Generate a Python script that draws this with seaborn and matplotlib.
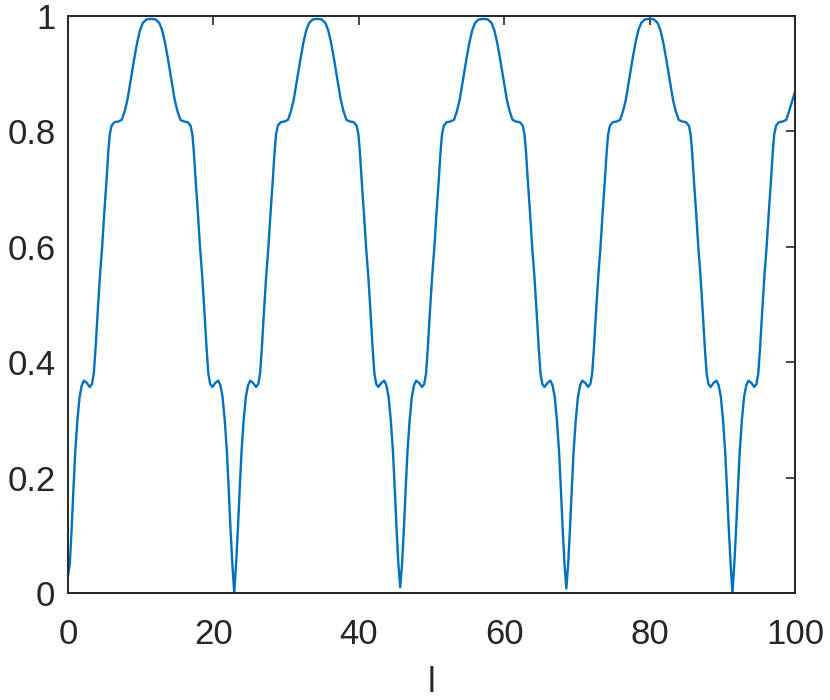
import numpy as np
import pandas as pd
import seaborn as sns
import matplotlib
matplotlib.use('Agg')
import matplotlib.pyplot as plt

# values, one period after another
x_vals = [
    0, 0.25, 0.5, 0.75, 1.0, 1.3, 1.6, 1.9, 2.2, 2.6, 3.0, 3.3, 3.55, 3.8, 4.1, 4.4, 4.7,
    5.0, 5.3, 5.55, 5.75, 6.0, 6.4, 6.9, 7.4, 7.8, 8.17, 8.63, 9.09, 9.5, 9.9, 10.3, 10.8, 11.43,
    12.06, 12.56, 12.96, 13.36, 13.77, 14.23, 14.69, 15.06, 15.46, 15.96, 16.46, 16.86, 17.11,
    17.31, 17.56, 17.86, 18.16, 18.46, 18.76, 19.06, 19.31, 19.56, 19.86, 20.26, 20.66, 20.96,
    21.26, 21.56, 21.86, 22.11, 22.36, 22.61,
    22.87, 23.12, 23.37, 23.62, 23.87, 24.17, 24.47, 24.77, 25.07, 25.47, 25.87, 26.17, 26.42,
    26.67, 26.97, 27.27, 27.57, 27.87, 28.17, 28.42, 28.62, 28.87, 29.27, 29.77, 30.27, 30.67,
    31.04, 31.5, 31.96, 32.37, 32.77, 33.17, 33.67, 34.3,
    34.9, 35.4, 35.8, 36.2, 36.61, 37.07, 37.53, 37.9, 38.3, 38.8, 39.3, 39.7, 39.95, 40.15,
    40.4, 40.7, 41.0, 41.3, 41.6, 41.9, 42.15, 42.4, 42.7, 43.1, 43.5, 43.8, 44.1, 44.4, 44.7,
    44.95, 45.2, 45.45,
    45.7, 45.95, 46.2, 46.45, 46.7, 47.0, 47.3, 47.6, 47.9, 48.3, 48.7, 49.0, 49.25, 49.5, 49.8,
    50.1, 50.4, 50.7, 51.0, 51.25, 51.45, 51.7, 52.1, 52.6, 53.1, 53.5, 53.87, 54.33, 54.79,
    55.2, 55.6, 56.0, 56.5, 57.13,
    57.75, 58.25, 58.65, 59.05, 59.46, 59.92, 60.38, 60.75, 61.15, 61.65, 62.15, 62.55, 62.8,
    63.0, 63.25, 63.55, 63.85, 64.15, 64.45, 64.75, 65.0, 65.25, 65.55, 65.95, 66.35, 66.65,
    66.95, 67.25, 67.55, 67.8, 68.05, 68.3,
    68.55, 68.8, 69.05, 69.3, 69.55, 69.85, 70.15, 70.45, 70.75, 71.15, 71.55, 71.85, 72.1,
    72.35, 72.65, 72.95, 73.25, 73.55, 73.85, 74.1, 74.3, 74.55, 74.95, 75.45, 75.95, 76.35,
    76.72, 77.18, 77.64, 78.05, 78.45, 78.85, 79.35, 79.98,
    80.6, 81.1, 81.5, 81.9, 82.31, 82.77, 83.23, 83.6, 84.0, 84.5, 85.0, 85.4, 85.65, 85.85,
    86.1, 86.4, 86.7, 87.0, 87.3, 87.6, 87.85, 88.1, 88.4, 88.8, 89.2, 89.5, 89.8, 90.1, 90.4,
    90.65, 90.9, 91.15,
    91.4, 91.65, 91.9, 92.15, 92.4, 92.7, 93.0, 93.3, 93.6, 94.0, 94.4, 94.7, 94.95, 95.2, 95.5,
    95.8, 96.1, 96.4, 96.7, 96.95, 97.15, 97.4, 97.8, 98.3, 98.8, 99.2, 99.6, 100.0,
]

y_vals = [
    0.03, 0.05, 0.11, 0.18, 0.245, 0.30, 0.34, 0.36, 0.368, 0.364, 0.357, 0.362, 0.38, 0.425,
    0.49, 0.55, 0.60, 0.66, 0.715, 0.765, 0.795, 0.81, 0.816, 0.817, 0.82, 0.835, 0.854, 0.889,
    0.924, 0.953, 0.975, 0.988, 0.994, 0.995,
    0.994, 0.988, 0.975, 0.953, 0.924, 0.889, 0.854, 0.835, 0.82, 0.817, 0.816, 0.81, 0.795,
    0.765, 0.715, 0.66, 0.60, 0.55, 0.49, 0.425, 0.38, 0.362, 0.357, 0.364, 0.368, 0.36, 0.34,
    0.30, 0.245, 0.18, 0.11, 0.05,
    0.0, 0.05, 0.11, 0.18, 0.245, 0.30, 0.34, 0.36, 0.368, 0.364, 0.357, 0.362, 0.38, 0.425,
    0.49, 0.55, 0.60, 0.66, 0.715, 0.765, 0.795, 0.81, 0.816, 0.817, 0.82, 0.835, 0.854, 0.889,
    0.924, 0.953, 0.975, 0.988, 0.994, 0.995,
    0.994, 0.988, 0.975, 0.953, 0.924, 0.889, 0.854, 0.835, 0.82, 0.817, 0.816, 0.81, 0.795,
    0.765, 0.715, 0.66, 0.60, 0.55, 0.49, 0.425, 0.38, 0.362, 0.357, 0.364, 0.368, 0.36, 0.34,
    0.30, 0.245, 0.18, 0.11, 0.05,
    0.01, 0.05, 0.11, 0.18, 0.245, 0.30, 0.34, 0.36, 0.368, 0.364, 0.357, 0.362, 0.38, 0.425,
    0.49, 0.55, 0.60, 0.66, 0.715, 0.765, 0.795, 0.81, 0.816, 0.817, 0.82, 0.835, 0.854, 0.889,
    0.924, 0.953, 0.975, 0.988, 0.994, 0.995,
    0.994, 0.988, 0.975, 0.953, 0.924, 0.889, 0.854, 0.835, 0.82, 0.817, 0.816, 0.81, 0.795,
    0.765, 0.715, 0.66, 0.60, 0.55, 0.49, 0.425, 0.38, 0.362, 0.357, 0.364, 0.368, 0.36, 0.34,
    0.30, 0.245, 0.18, 0.11, 0.05,
    0.008, 0.05, 0.11, 0.18, 0.245, 0.30, 0.34, 0.36, 0.368, 0.364, 0.357, 0.362, 0.38, 0.425,
    0.49, 0.55, 0.60, 0.66, 0.715, 0.765, 0.795, 0.81, 0.816, 0.817, 0.82, 0.835, 0.854, 0.889,
    0.924, 0.953, 0.975, 0.988, 0.994, 0.995,
    0.994, 0.988, 0.975, 0.953, 0.924, 0.889, 0.854, 0.835, 0.82, 0.817, 0.816, 0.81, 0.795,
    0.765, 0.715, 0.66, 0.60, 0.55, 0.49, 0.425, 0.38, 0.362, 0.357, 0.364, 0.368, 0.36, 0.34,
    0.30, 0.245, 0.18, 0.11, 0.05,
    0.0, 0.05, 0.11, 0.18, 0.245, 0.30, 0.34, 0.36, 0.368, 0.364, 0.357, 0.362, 0.38, 0.425,
    0.49, 0.55, 0.60, 0.66, 0.715, 0.765, 0.795, 0.81, 0.816, 0.817, 0.82, 0.835, 0.852, 0.868,
]

x_ticks = [0, 20, 40, 60, 80, 100]
x_ticklabels = ['0', '20', '40', '60', '80', '100']
y_ticks = [0, 0.2, 0.4, 0.6, 0.8, 1]
y_ticklabels = ['0', '0.2', '0.4', '0.6', '0.8', '1']

df = pd.DataFrame({'l': x_vals, 'val': y_vals})

sns.set_style('white')
plt.rcParams['font.family'] = ['Liberation Sans', 'DejaVu Sans']

axis_col = '#262626'
fig = plt.figure(figsize=(8.3, 7), dpi=100)
ax = fig.add_axes([0.0819, 0.1529, 0.8759, 0.8243])

sns.lineplot(data=df, x='l', y='val', ax=ax, color='#0072BD', linewidth=1.7,
             estimator=None, sort=False)

ax.set_xlim(0, 100)
ax.set_ylim(0, 1)
ax.set_xticks(x_ticks)
ax.set_xticklabels(x_ticklabels)
ax.set_yticks(y_ticks)
ax.set_yticklabels(y_ticklabels)
ax.tick_params(direction='in', length=6.5, width=1.2, colors=axis_col,
               labelsize=25, top=True, right=True)
ax.tick_params(axis='y', pad=9)
ax.tick_params(axis='x', pad=18)
for sp in ax.spines.values():
    sp.set_visible(True)
    sp.set_color(axis_col)
    sp.set_linewidth(1.4)

ax.set_xlabel('l', fontsize=25, color=axis_col, labelpad=11)
ax.set_ylabel('')

plt.savefig('out.png', dpi=100)
